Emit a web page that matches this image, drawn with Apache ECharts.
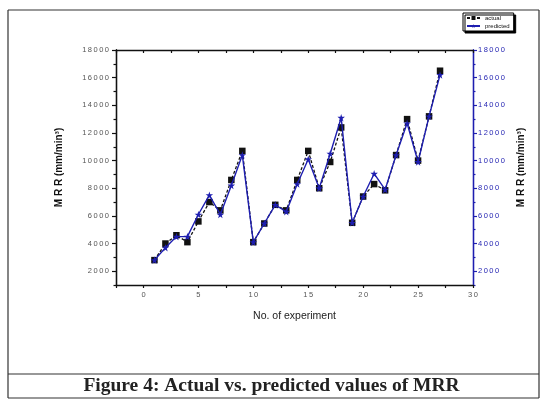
<!DOCTYPE html>
<html>
<head>
<meta charset="utf-8">
<script src="https://cdn.jsdelivr.net/npm/echarts@6/dist/echarts.min.js"></script>
<style>
  html, body { margin: 0; padding: 0; background: #ffffff; }
  #chart { width: 543px; height: 399px; }
</style>
</head>
<body>
<div id="chart"></div>
<script>
// Experiment numbers and material removal rate (MRR) values
const experiments = [1, 2, 3, 4, 5, 6, 7, 8, 9, 10, 11, 12, 13, 14, 15, 16, 17, 18, 19, 20, 21, 22, 23, 24, 25, 26, 27];
const actualMRR = [2800, 4000, 4600, 4100, 5600, 7000, 6400, 8600, 10700, 4100, 5450, 6800, 6400, 8600, 10700, 8000, 9900, 12400, 5500, 7400, 8300, 7850, 10400, 13000, 10000, 13200, 16500];
const predictedMRR = [2800, 3700, 4500, 4500, 6100, 7500, 6100, 8200, 10400, 4100, 5450, 6800, 6300, 8300, 10100, 8000, 10500, 13100, 5500, 7400, 9050, 7900, 10400, 12700, 9900, 13200, 16200];

// Axis tick values
const yMajorTicks = [2000, 4000, 6000, 8000, 10000, 12000, 14000, 16000, 18000];
const yMinorTicks = [1000, 3000, 5000, 7000, 9000, 11000, 13000, 15000, 17000];
const xLabelTicks = [0, 5, 10, 15, 20, 25, 30];
const xAllTicks = [-2.5, 0, 2.5, 5, 7.5, 10, 12.5, 15, 17.5, 20, 22.5, 25, 27.5, 30];

const seriesNames = ['actual', 'predicted'];
const xTitle = 'No. of experiment';
const yTitle = 'M R R (mm/min\u00B3)';
const caption = 'Figure 4: Actual vs. predicted values of MRR';

const BLUE = '#1e1eb0';
const STAR = 'path://M50,0 L61,35 L98,35 L68,57 L79,91 L50,70 L21,91 L32,57 L2,35 L39,35 Z';
const spaced = v => String(v).split('').join('\u2009');

const Y_MIN = 1000, Y_MAX = 18000;
const X_MIN = -2.5, X_MAX = 30;
const tickFont = { fontFamily: 'Liberation Sans', fontSize: 7.5, color: '#555' };

const chart = echarts.init(document.getElementById('chart'), null, { renderer: 'canvas' });

function yAxisDef(pos, color, withLabels, ticks, tickLen, name) {
  return {
    type: 'value', position: pos, min: Y_MIN, max: Y_MAX,
    name: name || '', nameLocation: 'middle', nameRotate: 90,
    nameGap: pos === 'left' ? 52 : 40,
    nameTextStyle: { fontFamily: 'Liberation Sans', fontSize: 10, fontWeight: 'bold', color: '#111' },
    axisLine: { show: true, onZero: false, lineStyle: { color: color, width: 1.3 } },
    axisTick: { show: true, inside: false, length: tickLen, customValues: ticks, lineStyle: { color: color, width: 1.2 } },
    axisLabel: withLabels ? Object.assign({ show: true, margin: pos === 'left' ? 7 : 5, customValues: ticks, formatter: spaced }, tickFont, { color: pos === 'left' ? '#555' : BLUE }) : { show: false },
    splitLine: { show: false }
  };
}

chart.setOption({
  animation: false,
  backgroundColor: '#ffffff',
  title: {
    text: caption, left: 'center', top: 376, padding: 0,
    textStyle: { fontFamily: 'Liberation Serif', fontSize: 19.5, fontWeight: 'bold', color: '#222' }
  },
  grid: { left: 116, right: 70, top: 50, bottom: 114, containLabel: false },
  legend: {
    data: seriesNames, orient: 'vertical', left: 463, top: 13,
    itemWidth: 13, itemHeight: 5, itemGap: 2, padding: [2, 4, 2, 3],
    textStyle: { fontFamily: 'Liberation Sans', fontSize: 6, color: '#111' },
    borderColor: '#000', borderWidth: 1, backgroundColor: '#fff',
    shadowColor: '#000', shadowOffsetX: 2, shadowOffsetY: 2, shadowBlur: 0
  },
  xAxis: [
    {
      type: 'value', position: 'bottom', min: X_MIN, max: X_MAX,
      name: xTitle, nameLocation: 'middle', nameGap: 26,
      nameTextStyle: { fontFamily: 'Liberation Sans', fontSize: 10.5, color: '#222' },
      axisLine: { show: true, onZero: false, lineStyle: { color: '#111', width: 1.3 } },
      axisTick: { show: true, inside: false, length: 3, customValues: xAllTicks, lineStyle: { color: '#111', width: 1.2 } },
      axisLabel: Object.assign({ show: true, margin: 6, customValues: xLabelTicks, formatter: spaced }, tickFont),
      splitLine: { show: false }
    },
    {
      type: 'value', position: 'top', min: X_MIN, max: X_MAX,
      axisLine: { show: true, onZero: false, lineStyle: { color: '#111', width: 1.3 } },
      axisTick: { show: true, inside: true, length: 3, customValues: xAllTicks, lineStyle: { color: '#111', width: 1.2 } },
      axisLabel: { show: false },
      splitLine: { show: false }
    }
  ],
  yAxis: [
    yAxisDef('left', '#111', true, yMajorTicks, 4, yTitle),
    yAxisDef('right', BLUE, true, yMajorTicks, 4, yTitle),
    yAxisDef('left', '#111', false, yMinorTicks, 2.5),
    yAxisDef('right', BLUE, false, yMinorTicks, 2.5)
  ],
  series: [
    {
      name: seriesNames[0], type: 'line', xAxisIndex: 0, yAxisIndex: 0,
      data: experiments.map((n, i) => [n, actualMRR[i]]),
      symbol: 'rect', symbolSize: 6.5,
      itemStyle: { color: '#111' },
      lineStyle: { color: '#111', width: 1.3, type: [3, 2] },
      z: 2
    },
    {
      name: seriesNames[1], type: 'line', xAxisIndex: 0, yAxisIndex: 0,
      data: experiments.map((n, i) => [n, predictedMRR[i]]),
      symbol: STAR, symbolSize: 7.5,
      itemStyle: { color: BLUE },
      lineStyle: { color: BLUE, width: 1.4 },
      z: 3
    }
  ],
  graphic: [
    { type: 'line', shape: { x1: 8, y1: 10, x2: 8, y2: 398 }, style: { stroke: '#333', lineWidth: 1.2 } },
    { type: 'line', shape: { x1: 539, y1: 10, x2: 539, y2: 398 }, style: { stroke: '#333', lineWidth: 1.2 } },
    { type: 'line', shape: { x1: 8, y1: 10, x2: 539, y2: 10 }, style: { stroke: '#333', lineWidth: 1.2 } },
    { type: 'line', shape: { x1: 8, y1: 374, x2: 539, y2: 374 }, style: { stroke: '#333', lineWidth: 1.2 } },
    { type: 'line', shape: { x1: 8, y1: 398, x2: 539, y2: 398 }, style: { stroke: '#333', lineWidth: 1.2 } }
  ]
});
</script>
</body>
</html>
